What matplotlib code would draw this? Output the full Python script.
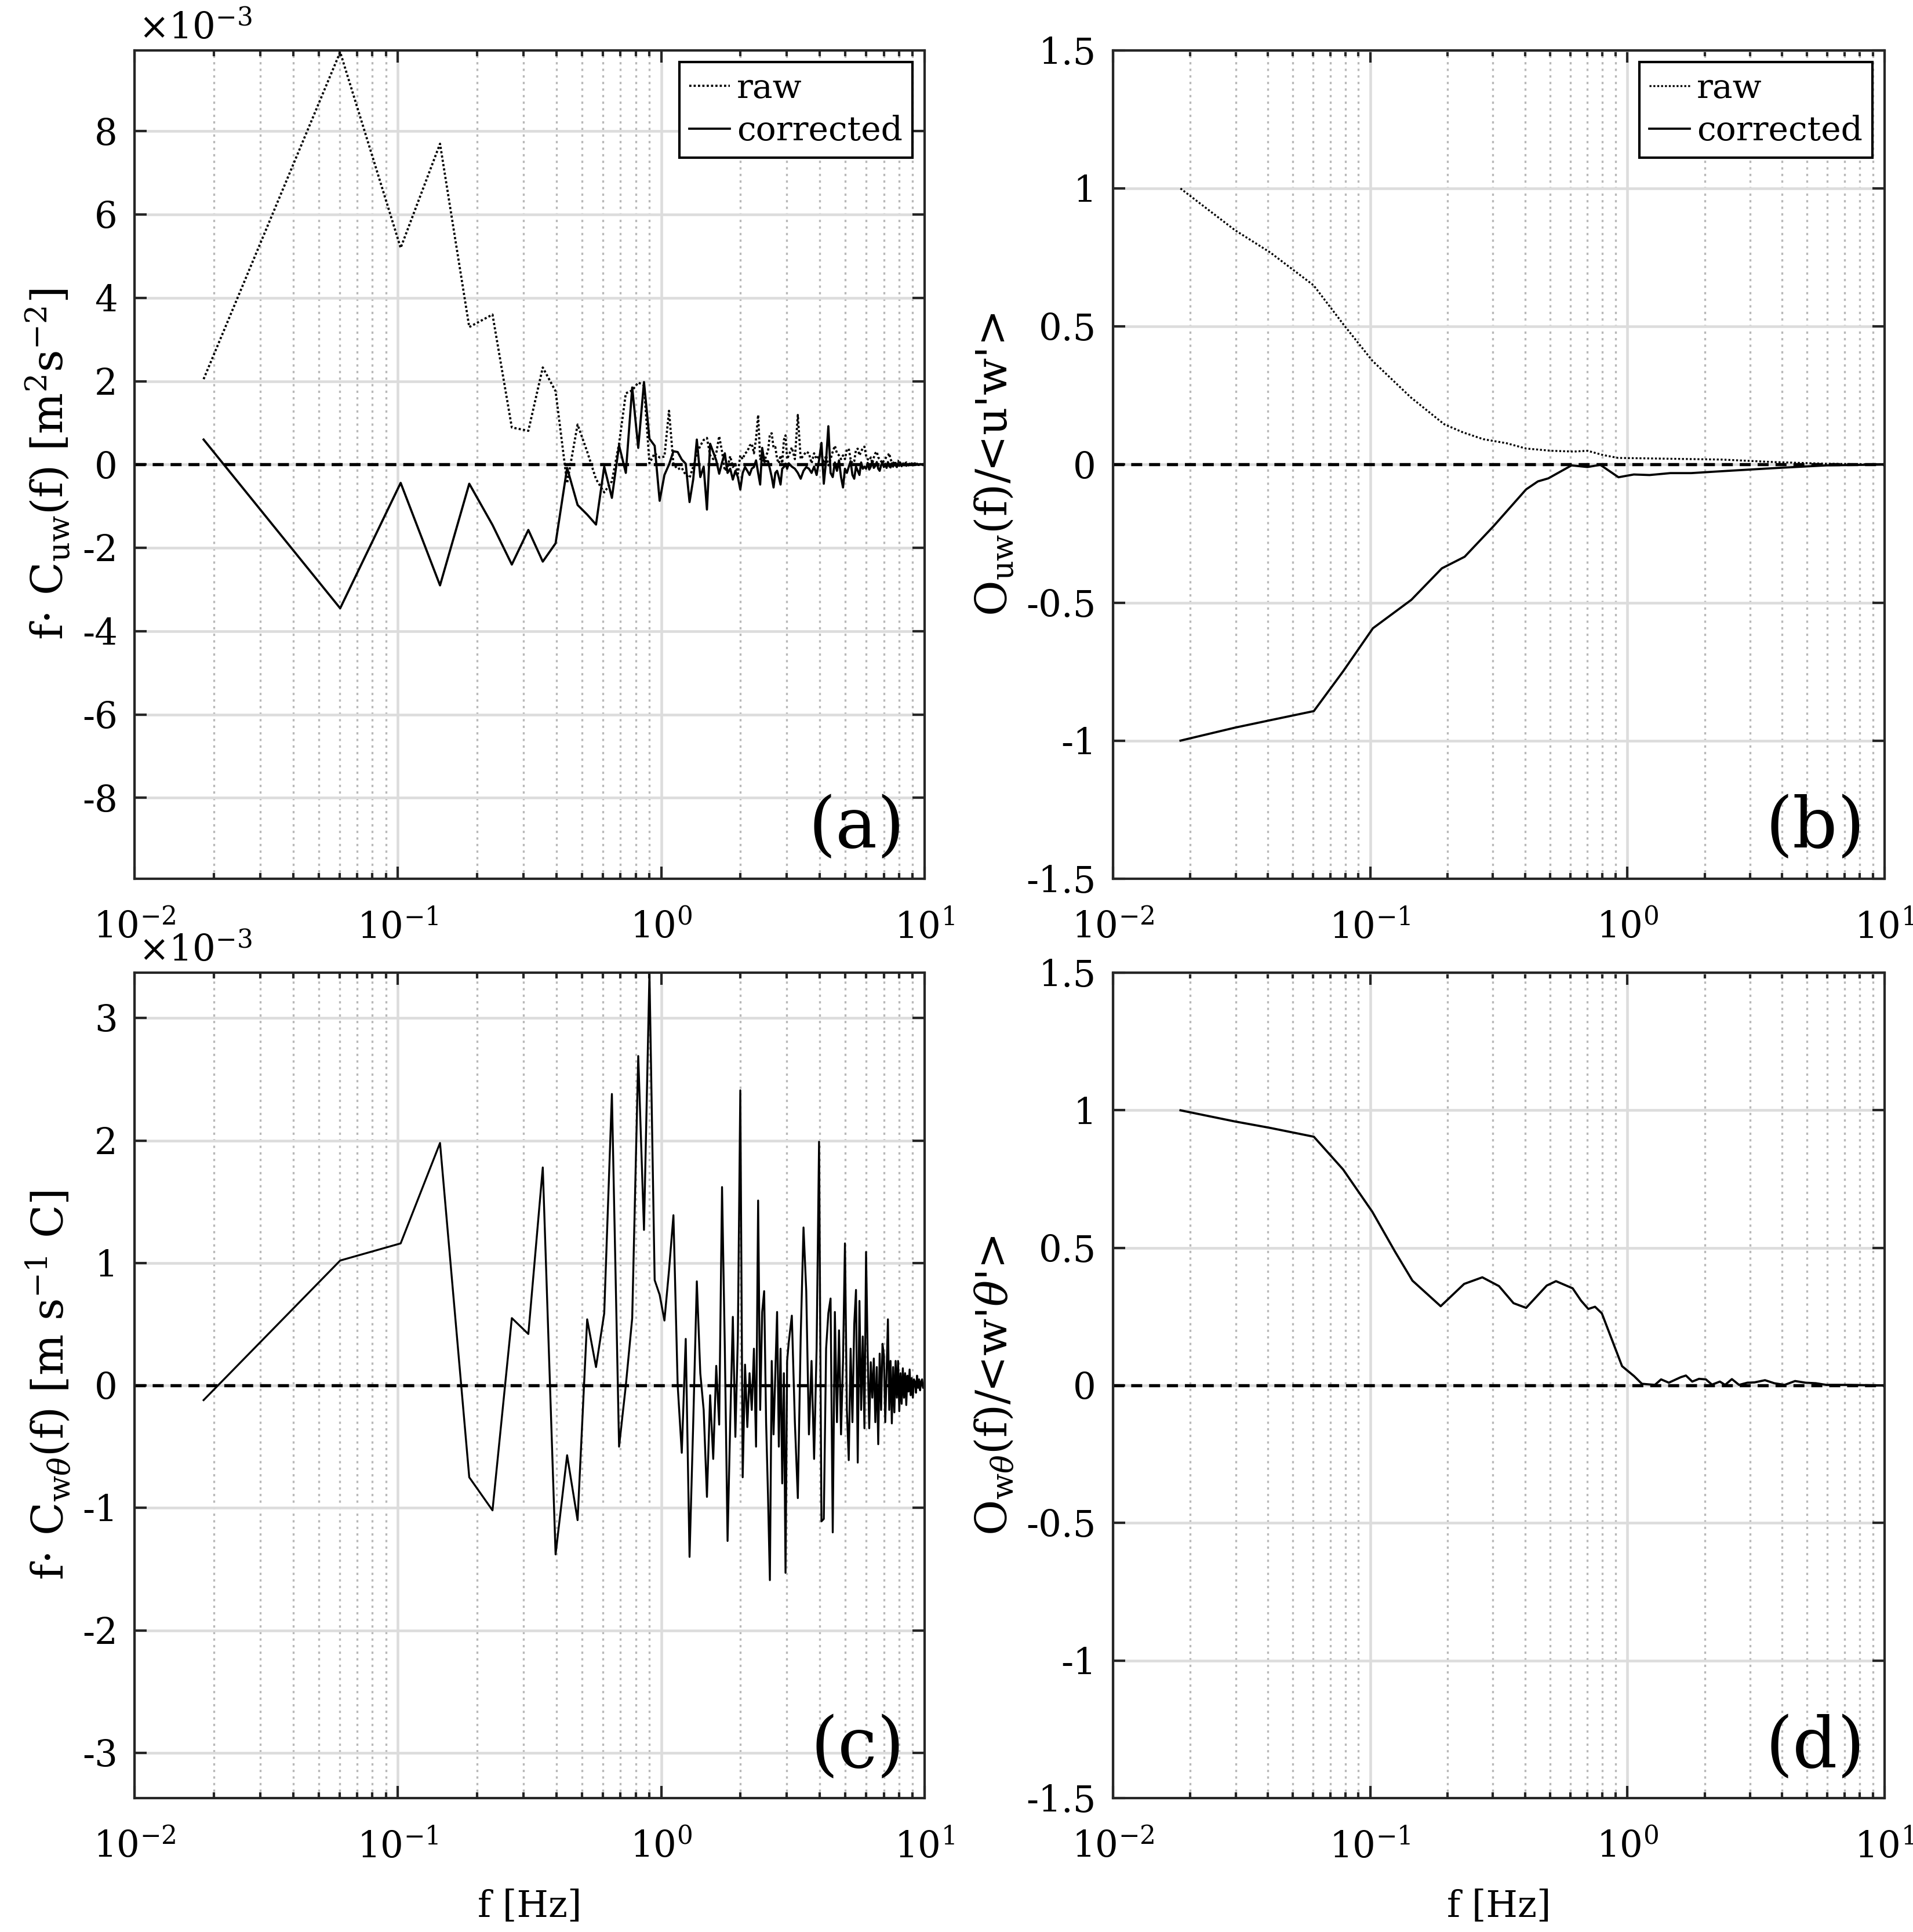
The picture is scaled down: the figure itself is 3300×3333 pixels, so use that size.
import numpy as np
import matplotlib
matplotlib.use('Agg')
import matplotlib.pyplot as plt
from matplotlib.ticker import FuncFormatter, MultipleLocator, LogLocator

plt.rcParams['font.family'] = ['DejaVu Serif']
plt.rcParams['mathtext.fontset'] = 'dejavuserif'
plt.rcParams['axes.unicode_minus'] = False

#frequency grid of the spectra (first bin and bin width, Hz)
F0 = 0.0183
DF = 0.0421

#panel (a): f*C_uw, x1e-3, bins 0..71 then every second bin
A_RAW_LO = [2.05, 9.9, 5.2, 7.7, 3.3, 3.6, 0.89, 0.81, 2.33, 1.76,
            -0.45, 0.96, 0.31, -0.35, -0.67, -0.4, 0.5, 1.71, 1.78, 1.97,
            1.9, 0.03, 0.27, 0.17, 0.19, 1.29, 0.01, -0.11, -0.08, -0.25,
            -0.32, -0.05, 0.27, 0.45, 0.59, 0.64, 0.22, 0.13, 0.27, 0.68,
            0.31, -0.15, -0.06, 0.2, -0.06, 0.01, -0.22, 0.22, 0.13, 0.27,
            0.31, 0.45, 0.5, 0.27, 0.62, 1.19, 0.13, 0.22, 0.03, 0.22,
            0.31, 0.73, 0.75, 0.4, 0.42, 0.13, 0.03, 0.22, 0.03, 0.59,
            0.7, 0.13]
A_RAW_HI = [0.22, 0.41, 0.13, 1.19, 0.13, 0.22, 0.31, 0.27, 0.03, 0.27,
            0.13, 0.22, 0.27, 0.03, 0.22, -0.02, 0.13, 0.31, 0.45, 0.27,
            0.22, 0.13, 0.22, 0.13, 0.36, 0.38, 0.13, 0.03, 0.08, 0.36,
            0.38, 0.22, 0.31, 0.4, 0.43, 0.22, 0.13, 0.1, 0.17, 0.03,
            0.17, 0.27, 0.31, 0.17, 0.13, 0.08, 0.03, 0.1, 0.13, 0.2,
            0.22, 0.27, 0.13, 0.06, 0.03, 0.08, 0.03, 0.06, 0.09, 0.01,
            0.05, 0.07, 0.02, 0.04, 0.01, 0.05, 0.03, -0.01, 0.04, 0.02,
            0.03, -0.01, 0.02, 0.03, 0.0, 0.02, -0.01, 0.01, 0.02, 0.0,
            0.01, -0.01, 0.0]
A_COR_LO = [0.6, -3.45, -0.44, -2.9, -0.46, -1.45, -2.4, -1.57, -2.33, -1.89,
            -0.08, -0.97, -1.2, -1.44, -0.05, -0.8, 0.46, -0.2, 1.85, 0.4,
            1.98, 0.62, 0.45, -0.87, -0.25, 0.0, 0.32, 0.3, 0.12, 0.02,
            -0.9, -0.35, 0.6, -0.3, -0.05, -1.08, 0.5, 0.3, 0.1, -0.22,
            0.05, 0.27, -0.2, -0.1, -0.36, -0.15, -0.3, -0.6, -0.2, -0.06,
            -0.15, -0.25, -0.1, -0.06, 0.1, -0.2, -0.48, 0.4, 0.1, 0.08,
            0.08, -0.1, -0.3, -0.55, -0.2, -0.15, -0.3, -0.48, -0.1, -0.06,
            0.02, -0.1]
A_COR_HI = [0.03, -0.05, -0.1, -0.2, -0.34, -0.15, -0.06, -0.1, -0.2, -0.05,
            -0.25, 0.1, 0.52, -0.46, 0.1, 0.92, -0.2, -0.3, 0.05, -0.15,
            0.1, -0.3, -0.55, -0.1, -0.2, -0.06, 0.08, -0.25, -0.34, -0.05,
            -0.15, -0.25, 0.05, -0.1, -0.05, -0.1, 0.04, -0.12, -0.05, 0.08,
            -0.08, -0.03, 0.06, -0.1, -0.15, -0.02, 0.05, -0.06, 0.02, -0.08,
            0.06, -0.04, -0.07, 0.03, -0.05, 0.04, -0.02, -0.06, 0.02, -0.03,
            0.03, -0.04, 0.01, -0.02, 0.03, -0.03, 0.01, -0.02, 0.02, -0.01,
            0.01, -0.02, 0.01, 0.0, -0.01, 0.01, 0.0, -0.01, 0.01, 0.0,
            0.0, 0.01, 0.0]

#panel (c): f*C_wtheta, x1e-3
C_COR_LO = [-0.12, 1.02, 1.16, 1.98, -0.75, -1.02, 0.55, 0.42, 1.78, -1.38,
            -0.57, -1.1, 0.54, 0.15, 0.59, 2.38, -0.5, 0.0, 0.55, 2.69,
            1.27, 3.37, 0.86, 0.74, 0.53, 0.94, 1.39, 0.0, -0.55, 0.38,
            -1.4, -0.3, 0.85, 0.1, -0.2, -0.91, -0.08, -0.6, 0.16, -0.32,
            1.62, 0.3, -1.27, -0.3, 0.56, -0.42, 0.4, 2.41, -0.75, 0.17,
            -0.34, 0.1, -0.2, 0.3, -0.5, 1.51, -0.2, 0.6, 0.77, -0.3,
            -0.9, -1.59, 0.2, -0.4, 0.1, 0.6, -0.5, 0.3, -0.8, 0.1,
            -1.53, 0.2]
C_COR_HI = [0.35, 0.57, -0.3, -0.92, 0.4, 1.29, 0.77, -0.4, 0.2, -0.6,
            0.3, 1.99, -1.11, -1.09, 0.3, 0.59, 0.71, -1.2, 0.6, -0.3,
            0.45, -0.4, 0.2, 1.16, -0.2, -0.61, 0.3, -0.3, 0.5, 0.78,
            -0.63, 0.69, -0.2, 0.4, -0.35, 1.09, 0.27, -0.35, 0.19, -0.1,
            0.22, -0.3, 0.15, -0.48, 0.26, -0.2, 0.34, 0.25, -0.3, 0.1,
            0.54, -0.2, 0.2, -0.31, 0.15, -0.22, 0.2, -0.1, 0.2, -0.21,
            0.1, -0.15, 0.14, -0.1, 0.1, -0.16, 0.08, -0.05, 0.13, -0.08,
            0.06, -0.1, 0.05, 0.03, -0.06, 0.08, -0.02, 0.05, -0.04, 0.03,
            0.05, -0.02, 0.0]

#panel (b): ogives of uw, normalised
B_RAW_F = [0.0183, 0.0298, 0.0409, 0.0603, 0.0785, 0.102, 0.144, 0.194, 0.229,
           0.275, 0.34, 0.404, 0.505, 0.619, 0.70, 0.80, 0.92, 1.47, 2.34,
           3.72, 5.94, 10.0]
B_RAW = [1.0, 0.849, 0.768, 0.649, 0.509, 0.376, 0.243, 0.146, 0.117,
         0.092, 0.077, 0.058, 0.05, 0.047, 0.05, 0.035, 0.024, 0.021, 0.018,
         0.009, 0.003, 0.0]
B_COR_F = [0.0183, 0.0298, 0.0409, 0.0604, 0.0785, 0.1025, 0.1446, 0.19, 0.233,
           0.302, 0.404, 0.449, 0.493, 0.607, 0.70, 0.785, 0.924, 1.06, 1.22,
           1.47, 1.77, 2.34, 3.72, 5.94, 10.0]
B_COR = [-1.0, -0.953, -0.926, -0.893, -0.749, -0.593, -0.49, -0.376, -0.334,
         -0.223, -0.09, -0.061, -0.05, -0.003, -0.009, -0.001, -0.046, -0.036, -0.038,
         -0.031, -0.031, -0.024, -0.013, -0.003, 0.0]

#panel (d): ogive of w theta, normalised
D_F = [0.0183, 0.0296, 0.0409, 0.0604, 0.0785, 0.102, 0.125, 0.146, 0.188,
       0.232, 0.273, 0.317, 0.361, 0.404, 0.486, 0.528, 0.613, 0.661, 0.705,
       0.749, 0.796, 0.954, 1.062, 1.139, 1.28, 1.353, 1.45, 1.614, 1.69,
       1.788, 1.9, 2.02, 2.135, 2.29, 2.4, 2.55, 2.72, 2.93, 3.12,
       3.43, 3.73, 4.09, 4.49, 4.93, 5.41, 5.94, 7.1, 10.0]
D_COR = [1.0, 0.96, 0.936, 0.904, 0.785, 0.631, 0.486, 0.381, 0.288,
         0.369, 0.393, 0.361, 0.299, 0.282, 0.363, 0.379, 0.353, 0.308, 0.278,
         0.286, 0.262, 0.07, 0.034, 0.006, 0.002, 0.022, 0.01, 0.03, 0.036,
         0.014, 0.024, 0.022, 0.003, 0.014, 0.002, 0.023, 0.002, 0.01, 0.011,
         0.019, 0.008, 0.002, 0.016, 0.01, 0.008, 0.002, 0.002, 0.0]

FRAME = '#262626'
TICK_FS = 15
LABEL_FS = 18


#bin frequencies for a spectrum stored as full bins then every second bin
def spectrum(lo, hi):
    k = np.concatenate([np.arange(len(lo)), len(lo) + 2 * np.arange(len(hi))])
    return F0 + DF * k, np.array(lo + hi) * 1e-3


def style_axes(ax, ylim, ystep, scale=1.0):
    ax.set_xscale('log')
    ax.set_xlim(1e-2, 1e1)
    ax.set_ylim(-ylim, ylim)
    ax.xaxis.set_major_locator(LogLocator(base=10, numticks=10))
    ax.xaxis.set_minor_locator(LogLocator(base=10, subs=np.arange(2, 10), numticks=20))
    ax.yaxis.set_major_locator(MultipleLocator(ystep))
    ax.yaxis.set_major_formatter(FuncFormatter(lambda v, p: '%g' % round(v * scale, 6)))
    ax.grid(True, which='major', color='#dcdcdc', lw=1.1, ls='-')
    ax.grid(True, which='minor', axis='x', color='#b8b8b8', lw=0.8, ls=(0, (1.2, 2.2)))
    ax.set_axisbelow(True)
    ax.tick_params(which='both', direction='in', top=True, right=True,
                   labelsize=TICK_FS, color=FRAME, width=1.0)
    ax.tick_params(which='major', length=5)
    ax.tick_params(which='minor', length=2.5)
    ax.tick_params(axis='x', which='both', pad=13)
    ax.tick_params(axis='y', which='both', pad=7)
    for s in ax.spines.values():
        s.set_linewidth(1.0)
        s.set_color(FRAME)
    #zero line
    ax.axhline(0, color='k', lw=1.3, ls=(0, (3.5, 2.2)), zorder=1.5)


fig = plt.figure(figsize=(11, 11.11), dpi=300)
ax_a = fig.add_axes([0.0703, 0.5452, 0.413, 0.4287])
ax_b = fig.add_axes([0.5818, 0.5452, 0.4033, 0.4287])
ax_c = fig.add_axes([0.0703, 0.0693, 0.413, 0.4272])
ax_d = fig.add_axes([0.5818, 0.0693, 0.4033, 0.4272])

#(a) cospectrum of u and w
fa, ya_raw = spectrum(A_RAW_LO, A_RAW_HI)
fa2, ya_cor = spectrum(A_COR_LO, A_COR_HI)
style_axes(ax_a, 9.94e-3, 2e-3, 1e3)
ax_a.plot(fa, ya_raw, color='k', lw=0.9, ls=(0, (1, 1)), label='raw')
ax_a.plot(fa2, ya_cor, color='k', lw=0.9, label='corrected')
ax_a.set_ylabel(r'f$\cdot$ C$_{\mathrm{uw}}$(f) [m$^2$s$^{-2}$]', fontsize=LABEL_FS)
ax_a.text(0.005, 1.005, r'$\times$10$^{-3}$', transform=ax_a.transAxes,
          ha='left', va='bottom', fontsize=TICK_FS)

#(b) ogives of u and w
style_axes(ax_b, 1.5, 0.5)
ax_b.plot(B_RAW_F, B_RAW, color='k', lw=0.8, ls=(0, (1, 1)), label='raw')
ax_b.plot(B_COR_F, B_COR, color='k', lw=0.9, label='corrected')
ax_b.set_ylabel(r"O$_{\mathrm{uw}}$(f)/<u'w'>", fontsize=LABEL_FS)

#(c) cospectrum of w and theta
fc, yc = spectrum(C_COR_LO, C_COR_HI)
style_axes(ax_c, 3.37e-3, 1e-3, 1e3)
ax_c.plot(fc, yc, color='k', lw=0.8)
ax_c.set_ylabel(r'f$\cdot$ C$_{\mathrm{w}\theta}$(f) [m s$^{-1}$ C]', fontsize=LABEL_FS)
ax_c.text(0.005, 1.005, r'$\times$10$^{-3}$', transform=ax_c.transAxes,
          ha='left', va='bottom', fontsize=TICK_FS)
ax_c.set_xlabel('f [Hz]', fontsize=15, labelpad=10)

#(d) ogive of w and theta
style_axes(ax_d, 1.5, 0.5)
ax_d.plot(D_F, D_COR, color='k', lw=0.9)
ax_d.set_ylabel(r"O$_{\mathrm{w}\theta}$(f)/<w'$\theta$'>", fontsize=LABEL_FS)
ax_d.set_xlabel('f [Hz]', fontsize=15, labelpad=10)

for ax in (ax_a, ax_b):
    leg = ax.legend(loc='upper right', fontsize=14, fancybox=False, framealpha=1,
                    edgecolor='k', borderaxespad=0.35, handlelength=1.2,
                    handletextpad=0.2, labelspacing=0.3, borderpad=0.3)
    leg.get_frame().set_linewidth(1.0)

for ax, tag in zip((ax_a, ax_b, ax_c, ax_d), ('(a)', '(b)', '(c)', '(d)')):
    ax.text(0.975, 0.02, tag, transform=ax.transAxes, ha='right', va='bottom', fontsize=29)

fig.savefig('out.png', dpi=300)
